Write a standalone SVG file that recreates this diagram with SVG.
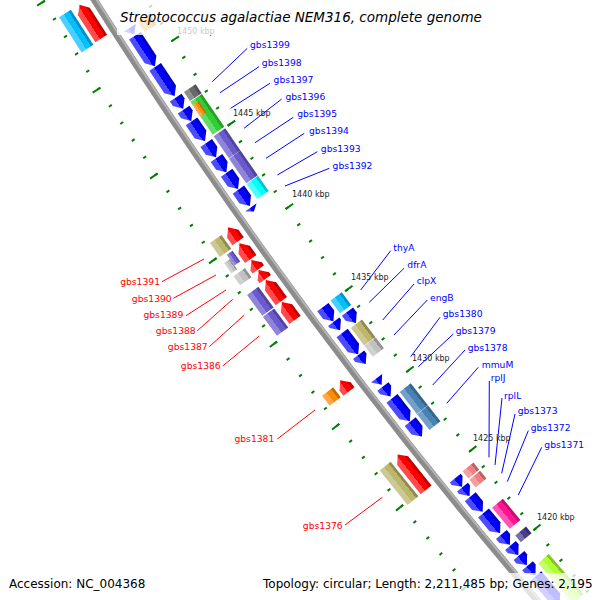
<svg xmlns="http://www.w3.org/2000/svg" width="600" height="600" viewBox="0 0 600 600">
<defs>
<linearGradient id="gB" x2="1"><stop offset=".2" stop-color="#0000c4"/><stop offset=".2" stop-color="#00f"/><stop offset=".6" stop-color="#00f"/><stop offset=".6" stop-color="#4b4bff"/></linearGradient>
<linearGradient id="gR" x2="1"><stop offset=".2" stop-color="#c40000"/><stop offset=".2" stop-color="#f00"/><stop offset=".6" stop-color="#f00"/><stop offset=".6" stop-color="#ff4b4b"/></linearGradient>
<linearGradient id="gDS" x2="1"><stop offset=".2" stop-color="#0093c4"/><stop offset=".2" stop-color="#00bfff"/><stop offset=".6" stop-color="#00bfff"/><stop offset=".6" stop-color="#4bcfff"/></linearGradient>
<linearGradient id="gAq" x2="1"><stop offset=".2" stop-color="#00c4c4"/><stop offset=".2" stop-color="#0ff"/><stop offset=".6" stop-color="#0ff"/><stop offset=".6" stop-color="#4bffff"/></linearGradient>
<linearGradient id="gSB" x2="1"><stop offset=".2" stop-color="#52459e"/><stop offset=".2" stop-color="#6a5acd"/><stop offset=".6" stop-color="#6a5acd"/><stop offset=".6" stop-color="#8f83da"/></linearGradient>
<linearGradient id="gKh" x2="1"><stop offset=".2" stop-color="#918d52"/><stop offset=".2" stop-color="#bdb76b"/><stop offset=".6" stop-color="#bdb76b"/><stop offset=".6" stop-color="#ccc893"/></linearGradient>
<linearGradient id="gSi" x2="1"><stop offset=".2" stop-color="#949494"/><stop offset=".2" stop-color="#c0c0c0"/><stop offset=".6" stop-color="#c0c0c0"/><stop offset=".6" stop-color="#d0d0d0"/></linearGradient>
<linearGradient id="gDG" x2="1"><stop offset=".2" stop-color="#515151"/><stop offset=".2" stop-color="#696969"/><stop offset=".6" stop-color="#696969"/><stop offset=".6" stop-color="#8f8f8f"/></linearGradient>
<linearGradient id="gLG" x2="1"><stop offset=".2" stop-color="#279e27"/><stop offset=".2" stop-color="#32cd32"/><stop offset=".6" stop-color="#32cd32"/><stop offset=".6" stop-color="#66da66"/></linearGradient>
<linearGradient id="gOr" x2="1"><stop offset=".2" stop-color="#c46c00"/><stop offset=".2" stop-color="#ff8c00"/><stop offset=".6" stop-color="#ff8c00"/><stop offset=".6" stop-color="#ffa94b"/></linearGradient>
<linearGradient id="gSt" x2="1"><stop offset=".2" stop-color="#36648a"/><stop offset=".2" stop-color="#4682b4"/><stop offset=".6" stop-color="#4682b4"/><stop offset=".6" stop-color="#749fc8"/></linearGradient>
<linearGradient id="gLC" x2="1"><stop offset=".2" stop-color="#b96363"/><stop offset=".2" stop-color="#f08080"/><stop offset=".6" stop-color="#f08080"/><stop offset=".6" stop-color="#f4a0a0"/></linearGradient>
<linearGradient id="gDP" x2="1"><stop offset=".2" stop-color="#c40f71"/><stop offset=".2" stop-color="#ff1493"/><stop offset=".6" stop-color="#ff1493"/><stop offset=".6" stop-color="#ff55b0"/></linearGradient>
<linearGradient id="gDSB" x2="1"><stop offset=".2" stop-color="#372f6b"/><stop offset=".2" stop-color="#483d8b"/><stop offset=".6" stop-color="#483d8b"/><stop offset=".6" stop-color="#7770aa"/></linearGradient>
<linearGradient id="gGY" x2="1"><stop offset=".2" stop-color="#85c424"/><stop offset=".2" stop-color="#adff2f"/><stop offset=".6" stop-color="#adff2f"/><stop offset=".6" stop-color="#c4ff6b"/></linearGradient>
</defs>
<style>
.tk{fill:none;stroke:#008000}
.lb{font-family:"DejaVu Sans",Verdana,sans-serif;font-size:9.2px}
.bl{fill:#00f}.rd{fill:#f00;text-anchor:end}
.kb{font-family:"DejaVu Sans",Verdana,sans-serif;font-size:8px;fill:#222}
.cb{stroke:#00f;stroke-width:1;fill:none}.cr{stroke:#f00;stroke-width:1;fill:none}
.lg{font-family:"DejaVu Sans",Verdana,sans-serif;font-size:12px;fill:#000}
.shade{fill:#fff;fill-opacity:.75}
</style>
<rect width="600" height="600" fill="#fff"/>
<g id="map" transform="translate(4485,-2775)">
 <g id="ticks" transform="rotate(149.117)">
  <path class="tk" stroke-width="3.5" stroke-dasharray="2 18.287" stroke-dashoffset="1" d="M5150 0A5150 5150 0 0 0 5050.43 -1007.80"/>
  <path class="tk" stroke-width="9" stroke-dasharray="2 99.375" stroke-dashoffset="1" d="M5147 0A5147 5147 0 0 0 5047.49 -1007.21"/>
  <path class="tk" stroke-width="3.5" stroke-dasharray="2 18.633" stroke-dashoffset="1" d="M5238 0A5238 5238 0 0 0 5136.73 -1025.02"/>
  <path class="tk" stroke-width="9" stroke-dasharray="2 101.225" stroke-dashoffset="1" d="M5241 0A5241 5241 0 0 0 5139.67 -1025.61"/>
 </g>
 <g id="backbone">
  <circle r="5194" fill="none" stroke="#8c8c8c" stroke-width="7"/>
  <circle r="5192" fill="none" stroke="#b4b4b4" stroke-width="2"/>
 </g>
 <g id="reverse-cds" fill="url(#gB)">
  <path id="b0" transform="rotate(147.151)" d="M5179 0L5186 7.8H5172Z"/>
  <path id="b1" transform="rotate(146.729)" d="M5179 0L5186 8V36.4H5172V8Z"/>
  <path id="b2" transform="rotate(146.334)" d="M5179 0L5186 8V35H5172V8Z"/>
  <path id="b3" transform="rotate(146.163)" d="M5179 0L5186 8V13.5H5172V8Z"/>
  <path id="b4" transform="rotate(146.002)" d="M5179 0L5186 8V13.7H5172V8Z"/>
  <path id="b5" transform="rotate(145.732)" d="M5179 0L5186 8V23.9H5172V8Z"/>
  <path id="b6" transform="rotate(145.515)" d="M5179 0L5186 8V17.4H5172V8Z"/>
  <path id="b7" transform="rotate(145.314)" d="M5179 0L5186 8V17.4H5172V8Z"/>
  <path id="b8" transform="rotate(145.088)" d="M5179 0L5186 8V19.9H5172V8Z"/>
  <path id="b9" transform="rotate(144.860)" d="M5179 0L5186 8V19.9H5172V8Z"/>
  <path id="b10" transform="rotate(144.784)" d="M5179 0L5186 5.1H5172Z"/>
  <path id="b11" transform="rotate(143.285)" d="M5179 0L5186 8V17.6H5172V8Z"/>
  <path id="b12" transform="rotate(143.161)" d="M5179 0L5186 8V10.6H5172V8Z"/>
  <path id="b13" transform="rotate(142.827)" d="M5179 0L5186 8V26.8H5172V8Z"/>
  <path id="b14" transform="rotate(142.691)" d="M5179 0L5186 8V11.7H5172V8Z"/>
  <path id="b15" transform="rotate(142.402)" d="M5179 0L5186 8.2H5172Z"/>
  <path id="b16" transform="rotate(142.240)" d="M5179 0L5186 8V12.5H5172V8Z"/>
  <path id="b17" transform="rotate(141.892)" d="M5179 0L5186 8V29H5172V8Z"/>
  <path id="b18" transform="rotate(141.676)" d="M5179 0L5186 8V19H5172V8Z"/>
  <path id="b19" transform="rotate(140.965)" d="M5179 0L5186 8V11H5172V8Z"/>
  <path id="b20" transform="rotate(140.834)" d="M5179 0L5186 8V11.3H5172V8Z"/>
  <path id="b21" transform="rotate(140.606)" d="M5179 0L5186 8V19.6H5172V8Z"/>
  <path id="b22" transform="rotate(140.303)" d="M5179 0L5186 8V26H5172V8Z"/>
  <path id="b23" transform="rotate(140.134)" d="M5179 0L5186 8V13.3H5172V8Z"/>
  <path id="b24" transform="rotate(139.987)" d="M5179 0L5186 8V12.3H5172V8Z"/>
  <path id="b25" transform="rotate(139.841)" d="M5179 0L5186 8V12.3H5172V8Z"/>
  <path id="b26" transform="rotate(139.694)" d="M5179 0L5186 8V12.3H5172V8Z"/>
  <path id="b27" transform="rotate(139.277)" d="M5179 0L5186 8V36.8H5172V8Z"/>
 </g>
 <g id="reverse-boxes">
  <path id="i0" fill="url(#gOr)" transform="rotate(147.108)" d="M5155 0H5169V12.3H5155Z"/>
  <path id="i1" fill="url(#gDG)" transform="rotate(146.192)" d="M5155 0H5169V11H5155Z"/>
  <path id="i2" fill="url(#gLG)" transform="rotate(145.743)" d="M5155 0H5169V39.7H5155Z"/>
  <path id="i3" fill="url(#gOr)" transform="rotate(145.991)" d="M5162 0H5169V13.3H5162Z"/>
  <path id="i4" fill="url(#gSB)" transform="rotate(145.425)" d="M5155 0H5169V26.8H5155Z"/>
  <path id="i5" fill="url(#gSB)" transform="rotate(145.088)" d="M5155 0H5169V30.1H5155Z"/>
  <path id="i6" fill="url(#gAq)" transform="rotate(144.876)" d="M5155 0H5169V18.4H5155Z"/>
  <path id="i7" fill="url(#gDS)" transform="rotate(143.312)" d="M5155 0H5169V15.8H5155Z"/>
  <path id="i8" fill="url(#gB)" transform="rotate(143.120)" d="M5162 0L5169 8V14.1H5155V8Z"/>
  <path id="i9" fill="url(#gKh)" transform="rotate(142.865)" d="M5155 0H5169V22.1H5155Z"/>
  <path id="i10" fill="url(#gSi)" transform="rotate(142.707)" d="M5155 0H5169V13.9H5155Z"/>
  <path id="i11" fill="url(#gSt)" transform="rotate(141.908)" d="M5155 0H5169V27.8H5155Z"/>
  <path id="i12" fill="url(#gSt)" transform="rotate(141.682)" d="M5155 0H5169V20H5155Z"/>
  <path id="i13" fill="url(#gLC)" transform="rotate(140.992)" d="M5155 0H5169V9.2H5155Z"/>
  <path id="i14" fill="url(#gLC)" transform="rotate(140.865)" d="M5155 0H5169V10H5155Z"/>
  <path id="i15" fill="url(#gDP)" transform="rotate(140.270)" d="M5155 0H5169V27.6H5155Z"/>
  <path id="i16" fill="url(#gDSB)" transform="rotate(140.078)" d="M5155 0H5169V8.6H5155Z"/>
  <path id="i17" fill="url(#gGY)" transform="rotate(139.186)" d="M5155 0H5169V53.2H5155Z"/>
 </g>
 <g id="forward-cds" fill="url(#gR)">
  <path id="r0" transform="rotate(147.307)" d="M5202 0H5216V32.1L5209 40.1L5202 32.1Z"/>
  <path id="r1" transform="rotate(144.617)" d="M5202 0H5216V9.2L5209 17.2L5202 9.2Z"/>
  <path id="r2" transform="rotate(144.377)" d="M5202 0H5216V11.4L5209 19.4L5202 11.4Z"/>
  <path id="r3" transform="rotate(144.235)" d="M5202 0H5216V3.7L5209 11.7L5202 3.7Z"/>
  <path id="r4" transform="rotate(144.104)" d="M5202 0H5216V3.3L5209 11.3L5202 3.3Z"/>
  <path id="r5" transform="rotate(143.804)" d="M5202 0H5216V18.2L5209 26.2L5202 18.2Z"/>
  <path id="r6" transform="rotate(143.549)" d="M5202 0H5216V14.3L5209 22.3L5202 14.3Z"/>
  <path id="r7" transform="rotate(142.563)" d="M5202 0H5216V6.3L5209 14.3L5202 6.3Z"/>
  <path id="r8" transform="rotate(141.188)" d="M5202 0H5216V37.4L5209 45.4L5202 37.4Z"/>
 </g>
 <g id="forward-boxes">
  <path id="o0" fill="url(#gDS)" transform="rotate(147.296)" d="M5219 0H5233V41.7H5219Z"/>
  <path id="o1" fill="url(#gKh)" transform="rotate(144.592)" d="M5219 0H5233V17H5219Z"/>
  <path id="o2" fill="url(#gSi)" transform="rotate(144.373)" d="M5226 0H5233V12.5H5226Z"/>
  <path id="o3" fill="url(#gSB)" transform="rotate(144.422)" d="M5219 0H5226V13.3H5219Z"/>
  <path id="o4" fill="url(#gSi)" transform="rotate(144.210)" d="M5219 0H5233V11.3H5219Z"/>
  <path id="o5" fill="url(#gSB)" transform="rotate(143.797)" d="M5219 0H5233V25.8H5219Z"/>
  <path id="o6" fill="url(#gSB)" transform="rotate(143.526)" d="M5219 0H5233V23.7H5219Z"/>
  <path id="o7" fill="url(#gOr)" transform="rotate(142.567)" d="M5219 0H5233V12.5H5219Z"/>
  <path id="o8" fill="url(#gKh)" transform="rotate(141.186)" d="M5219 0H5233V44.4H5219Z"/>
 </g>
</g>
<g id="kbp-labels" class="kb">
 <text x="177" y="33.5">1450 kbp</text>
 <text x="233" y="116">1445 kbp</text>
 <text x="292" y="197">1440 kbp</text>
 <text x="351" y="280">1435 kbp</text>
 <text x="412" y="361">1430 kbp</text>
 <text x="473" y="441">1425 kbp</text>
 <text x="537" y="520">1420 kbp</text>
</g>
<g id="connectors">
 <path class="cb" d="M247.3 48.3L212.3 81.7M259 66.7L220 92.7M270 83.3L230.7 108.3M281.7 99L244 128.3M293.3 117.3L255 142.7M304.3 133.3L266 158.3M317.3 151.7L277.3 175M329.3 168.3L285 186M390.7 250.7L360.7 290M404 268.3L369.3 302.3M414 284L382.7 320M427.3 300L394 335M440 317.3L410.7 356.7M453.3 334L418.3 366.7M465 350L432.7 385M478.3 367.3L446.7 403.3M489.3 381L489 457.3M502 398L495 465M515 414L501.7 473.3M528.3 430.7L507.3 481.7M541.7 447.3L518.3 495"/>
 <path class="cr" d="M162 281.7L204 259M173.3 298.3L216 275M186 315.7L226 290M197.3 330.7L232.7 299.3M209.3 346.7L244.3 315M222.7 366L259.3 336M277.3 439L315 410M345 525L382.3 497.3"/>
</g>
<g id="labels" class="lb">
 <text class="bl" x="250" y="48.4">gbs1399</text>
 <text class="bl" x="261.8" y="65.6">gbs1398</text>
 <text class="bl" x="273.6" y="82.8">gbs1397</text>
 <text class="bl" x="285.4" y="100">gbs1396</text>
 <text class="bl" x="297.2" y="117.2">gbs1395</text>
 <text class="bl" x="309" y="134.4">gbs1394</text>
 <text class="bl" x="320.8" y="151.6">gbs1393</text>
 <text class="bl" x="332.6" y="168.8">gbs1392</text>
 <text class="bl" x="393.3" y="251">thyA</text>
 <text class="bl" x="407.3" y="267.5">dfrA</text>
 <text class="bl" x="416.7" y="284">clpX</text>
 <text class="bl" x="430" y="300.5">engB</text>
 <text class="bl" x="442.7" y="317">gbs1380</text>
 <text class="bl" x="455.7" y="334">gbs1379</text>
 <text class="bl" x="467.7" y="350.5">gbs1378</text>
 <text class="bl" x="481.7" y="367.5">mmuM</text>
 <text class="bl" x="490.7" y="381">rplJ</text>
 <text class="bl" x="504" y="398.5">rplL</text>
 <text class="bl" x="517.7" y="413.7">gbs1373</text>
 <text class="bl" x="530.7" y="431">gbs1372</text>
 <text class="bl" x="544.3" y="448.4">gbs1371</text>
 <text class="rd" x="160" y="285">gbs1391</text>
 <text class="rd" x="171.7" y="301.7">gbs1390</text>
 <text class="rd" x="183.3" y="318.4">gbs1389</text>
 <text class="rd" x="195.7" y="334.4">gbs1388</text>
 <text class="rd" x="207.7" y="350.4">gbs1387</text>
 <text class="rd" x="220.7" y="369.4">gbs1386</text>
 <text class="rd" x="274.3" y="441.7">gbs1381</text>
 <text class="rd" x="342.7" y="529.4">gbs1376</text>
</g>
<g id="title">
 <rect class="shade" x="117" y="0" width="368" height="35"/>
 <text x="120" y="22" font-family="'DejaVu Sans',Verdana,sans-serif" font-size="13.5" font-style="italic" fill="#000">Streptococcus agalactiae NEM316, complete genome</text>
</g>
<g id="legend">
 <rect class="shade" x="4" y="573" width="150" height="27"/>
 <text class="lg" x="9" y="588">Accession: NC_004368</text>
 <rect class="shade" x="258" y="573" width="342" height="27"/>
 <text class="lg" x="263" y="588">Topology: circular; Length: 2,211,485 bp; Genes: 2,195</text>
</g>
</svg>
